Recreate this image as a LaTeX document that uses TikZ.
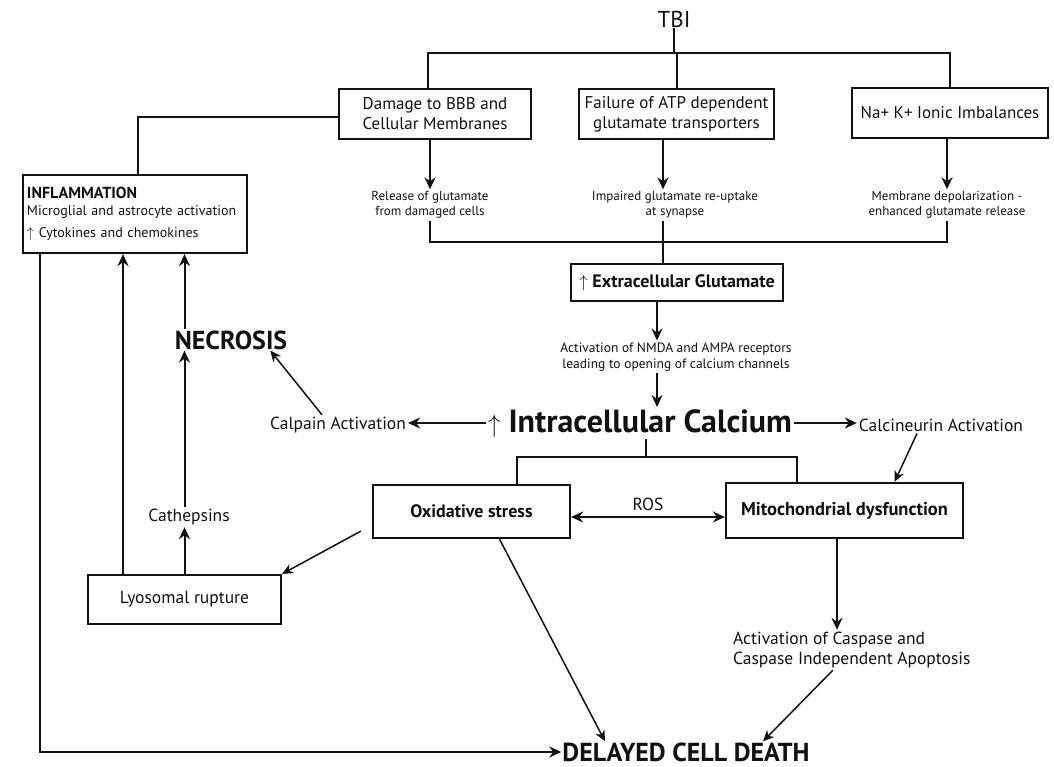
\documentclass[tikz,border=0pt]{standalone}
\usepackage{fontspec}
\setmainfont{PT Sans}
\usepackage{tikz}
\usetikzlibrary{arrows.meta,calc}
\definecolor{ink}{HTML}{111111}
\tikzset{
  box/.style={draw=ink, line width=2.2pt, inner sep=3pt, align=center, text=ink},
  note/.style={text=ink, align=center, inner sep=2pt, font=\fontsize{13}{15}\selectfont},
  lab/.style={text=ink, inner sep=2pt, font=\fontsize{17.5}{20}\selectfont},
  big/.style={text=ink, inner sep=1pt, font=\bfseries\fontsize{26}{28}\selectfont},
  link/.style={draw=ink, line width=2pt},
  arr/.style={link, -{Stealth[length=12pt,width=11pt,inset=4pt]}},
  slim/.style={draw=ink, line width=1.5pt, -{Stealth[length=11pt,width=10pt,inset=3.5pt]}},
  both/.style={link, line width=2.3pt, {Stealth[length=12pt,width=11pt,inset=4pt]}-{Stealth[length=12pt,width=11pt,inset=4pt]}},
}

\begin{document}
\begin{tikzpicture}[x=1pt,y=-1pt]
  \useasboundingbox[fill=white] (0,0) rectangle (1054,767);

  % top row
  \node[text=ink, inner sep=1pt, font=\fontsize{23}{25}\selectfont] (tbi) at (674,19) {TBI};
  \node[box, minimum width=192pt, minimum height=50pt, font=\fontsize{17}{20}\selectfont] (dmg) at (435,114) {Damage to BBB and\\Cellular Membranes};
  \node[box, minimum width=195pt, minimum height=50pt, font=\fontsize{17}{20}\selectfont] (atp) at (676.5,114) {Failure of ATP dependent\\glutamate transporters};
  \node[box, minimum width=196pt, minimum height=50pt, font=\fontsize{17}{20}\selectfont] (ion) at (950,113) {Na+ K+ Ionic Imbalances};

  \node[note] (rel) at (430,205) {Release of glutamate\\from damaged cells};
  \node[note] (imp) at (675,205) {Impaired glutamate re-uptake\\at synapse};
  \node[note] (dep) at (947,205) {Membrane depolarization -\\enhanced glutamate release};

  \coordinate (bar) at (676,53);
  \coordinate (glu) at (663,242);

  \node[box, minimum width=212pt, minimum height=37pt, font=\bfseries\fontsize{18}{20}\selectfont] (ext) at (677,282.5) {{\mdseries$\uparrow$} Extracellular Glutamate};
  \node[note, font=\fontsize{13.5}{16}\selectfont] (nmda) at (676,357) {Activation of NMDA and AMPA receptors\\leading to opening of calcium channels};

  % calcium row
  \node[text=ink, inner sep=2pt, font=\bfseries\fontsize{32}{34}\selectfont] (ica) at (640,423) {{\mdseries$\uparrow$} Intracellular Calcium};
  \node[lab] (calp) at (338,425) {Calpain Activation};
  \node[lab] (calc) at (941,425) {Calcineurin Activation};
  \node[big] (necr) at (231,340) {NECROSIS};

  \node[box, align=left, text width=216pt, minimum width=224pt, minimum height=78pt, font=\fontsize{14}{17}\selectfont] (infl) at (135,214)
    {{\bfseries\fontsize{16}{17}\selectfont INFLAMMATION}\\Microglial and astrocyte activation\\[5pt]$\uparrow$ Cytokines and chemokines};

  % lower part
  \coordinate (fork) at (646,457);
  \node[box, minimum width=197pt, minimum height=53pt, font=\bfseries\fontsize{18}{20}\selectfont] (oxi) at (471.5,511.5) {Oxidative stress};
  \node[box, minimum width=237pt, minimum height=55pt, font=\bfseries\fontsize{18.5}{20}\selectfont] (mito) at (844.5,510.5) {Mitochondrial dysfunction};
  \node[box, minimum width=193pt, minimum height=49pt, font=\fontsize{17.5}{20}\selectfont] (lyso) at (184.5,599.5) {Lyosomal rupture};
  \node[lab] (cath) at (189,517) {Cathepsins};
  \node[lab, anchor=west, align=left, font=\fontsize{17.5}{20}\selectfont] (casp) at (731,650) {Activation of Caspase and\\Caspase Independent Apoptosis};
  \node[big] (death) at (686,752) {DELAYED CELL DEATH};

  % TBI fan-out
  \draw[link] (tbi.south) -- (tbi.south |- bar);
  \draw[link] ([xshift=-7pt]dmg.north) |- (ion.north |- bar) -- (ion.north);
  \draw[link] (atp.north) -- (atp.north |- bar);

  \draw[arr] (rel.north |- dmg.south) -- (rel.north);
  \draw[arr] (atp.south -| glu) -- (imp.north -| glu);
  \draw[arr] (dep.north |- ion.south) -- (dep.north);

  % glutamate merge
  \draw[link] (rel.south) |- (dep.south |- glu) -- (dep.south);
  \draw[link] (imp.south -| glu) -- (ext.north -| glu);

  \draw[arr] ([xshift=-20pt]ext.south) -- ([xshift=-20pt]ext.south |- nmda.north);
  \draw[arr] ([xshift=-19pt]nmda.south) -- ([xshift=-19pt]nmda.south |- ica.north);

  \draw[arr] (ica.west) -- (calp.east |- ica.west);
  \draw[arr] (ica.east) -- (calc.west |- ica.east);
  \draw[slim] ([xshift=-16pt]calp.north) -- ([xshift=-18pt]necr.south east);
  \draw[slim] ([xshift=-24pt]calc.south) -- ([xshift=50pt]mito.north);

  \draw[link] (ica.south -| fork) -- (fork);
  \draw[link] ([xshift=45.5pt]oxi.north) |- ([xshift=-47.5pt]mito.north |- fork) -- ([xshift=-47.5pt]mito.north);

  \draw[both] ([yshift=-5.5pt]oxi.east) -- ([yshift=-5.5pt]oxi.east -| mito.west)
    node[midway, above=3pt, lab] (ros) {ROS};

  % left column
  \draw[link] ([yshift=-3pt]dmg.west) -| ([xshift=3pt]infl.north);
  \draw[arr] (lyso.north) -- (lyso.north |- cath.south);
  \draw[arr] (lyso.north |- cath.north) -- (lyso.north |- necr.south);
  \draw[arr] (lyso.north |- necr.north) -- (lyso.north |- infl.south);
  \draw[arr] ([xshift=-61.5pt]lyso.north) -- ([xshift=-61.5pt]lyso.north |- infl.south);
  \draw[slim] ($(oxi.south west)+(-11,-8)$) -- (lyso.north east);

  % towards cell death
  \draw[slim] ([xshift=28pt]oxi.south) -- ([xshift=-81pt]death.north);
  \draw[arr] ([xshift=-7.5pt]mito.south) -- ([xshift=-7.5pt]mito.south |- casp.north);
  \draw[slim] ([xshift=-19pt]casp.south) -- ([xshift=77pt]death.north);
  \draw[arr] ([xshift=-95pt]infl.south) |- (death.west);
\end{tikzpicture}
\end{document}
